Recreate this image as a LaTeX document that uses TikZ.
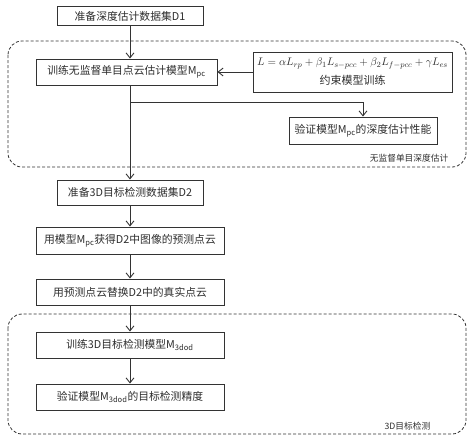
\documentclass[tikz,border=0pt]{standalone}
\usepackage{fontspec}
\setmainfont{Noto Sans CJK SC}
\usetikzlibrary{arrows.meta, positioning}
\definecolor{cline}{HTML}{333333}
\definecolor{ctext}{HTML}{2E2E2E}
\tikzset{
  every picture/.style={line width=0.9pt},
  box/.style={draw=cline, fill=white, text=ctext, align=center, inner sep=2pt, font=\fontsize{10.8}{13}\selectfont},
  arrow/.style={-{Straight Barb[length=5pt, width=8pt]}, draw=cline, line width=0.9pt},
  region/.style={draw=cline, dash pattern=on 3pt off 2pt, rounded corners=14pt, line width=0.8pt},
  note/.style={text=ctext, font=\fontsize{8.7}{10}\selectfont, anchor=east},
}

\begin{document}
\begin{tikzpicture}[x=1pt, y=-1pt]
  \useasboundingbox (0,0) rectangle (474,442);
  % dashed groups
  \draw[region] (8,41) rectangle (466,167);
  \draw[region] (8,314) rectangle (466,434);
  \node[note] (g1) at (452,158) {无监督单目深度估计};
  \node[note] (g2) at (434,426) {3D目标检测};
  % depth estimation part
  \node[box, minimum width=146pt, minimum height=19pt] (d1) at (130,16) {准备深度估计数据集D1};
  \node[box, minimum width=181pt, minimum height=26pt] (mpc) at (126.5,72) {训练无监督单目点云估计模型M\textsubscript{pc}};
  \node[box, minimum width=199pt, minimum height=40pt, font=\fontsize{11}{19}\selectfont] (loss) at (352.5,72) {$L=\alpha L_{rp}+\beta_1 L_{s-pcc}+\beta_2 L_{f-pcc}+\gamma L_{es}$\\约束模型训练};
  \node[box, minimum width=148pt, minimum height=27pt] (verify) at (363,130.5) {验证模型M\textsubscript{pc}的深度估计性能};
  \draw[arrow] (d1) -- (d1 |- mpc.north);
  \draw[arrow] (loss.west) -- (mpc.east);
  \coordinate (br) at (130,102);
  \draw[arrow] (br) -| (verify.north);
  % detection part
  \node[box, minimum width=146pt, minimum height=25pt] (d2) at (130,192.5) {准备3D目标检测数据集D2};
  \node[box, minimum width=188pt, minimum height=27pt] (pred) at (130,240.5) {用模型M\textsubscript{pc}获得D2中图像的预测点云};
  \node[box, minimum width=188pt, minimum height=26pt] (repl) at (130,292) {用预测点云替换D2中的真实点云};
  \node[box, minimum width=188pt, minimum height=26pt] (train) at (130,345) {训练3D目标检测模型M\textsubscript{3dod}};
  \node[box, minimum width=188pt, minimum height=26pt] (eval) at (130,397) {验证模型M\textsubscript{3dod}的目标检测精度};
  \draw[arrow] (d1 |- mpc.south) -- (d2);
  \draw[arrow] (d2) -- (pred);
  \draw[arrow] (pred) -- (repl);
  \draw[arrow] (repl) -- (train);
  \draw[arrow] (train) -- (eval);
\end{tikzpicture}
\end{document}
